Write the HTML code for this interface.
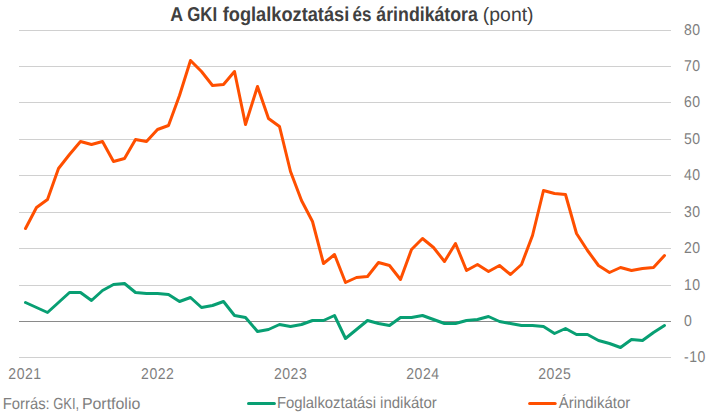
<!DOCTYPE html>
<html><head><meta charset="utf-8"><title>chart</title>
<style>
html,body{margin:0;padding:0;background:#fff;}
svg{display:block;text-rendering:geometricPrecision;font-family:"Liberation Sans",sans-serif;}
.g{font-size:16px;fill:#7f7f7f;}
.d{font-size:15.6px;fill:#7f7f7f;}
.tb{font-size:20px;font-weight:bold;fill:#404040;}
.tr{font-size:19.4px;fill:#404040;}
.ln{fill:none;stroke-width:3;stroke-linecap:round;stroke-linejoin:round;}
</style></head><body>
<svg width="719" height="416" viewBox="0 0 719 416">
<rect width="719" height="416" fill="#ffffff"/>
<g shape-rendering="crispEdges">
<rect x="19" y="30" width="652" height="1" fill="#d0d0d0"/>
<rect x="19" y="66" width="652" height="1" fill="#d0d0d0"/>
<rect x="19" y="102" width="652" height="1" fill="#d0d0d0"/>
<rect x="19" y="139" width="652" height="1" fill="#d0d0d0"/>
<rect x="19" y="175" width="652" height="1" fill="#d0d0d0"/>
<rect x="19" y="212" width="652" height="1" fill="#d0d0d0"/>
<rect x="19" y="248" width="652" height="1" fill="#d0d0d0"/>
<rect x="19" y="285" width="652" height="1" fill="#d0d0d0"/>
<rect x="19" y="321" width="652" height="1" fill="#8a8a8a"/>
<rect x="19" y="357" width="652" height="1" fill="#d0d0d0"/>
</g>
<g transform="translate(683.95,34.9) scale(0.9,1)"><text class="d" text-anchor="start" letter-spacing="0.567">80</text></g>
<g transform="translate(683.95,70.9) scale(0.9,1)"><text class="d" text-anchor="start" letter-spacing="0.567">70</text></g>
<g transform="translate(683.95,106.9) scale(0.9,1)"><text class="d" text-anchor="start" letter-spacing="0.567">60</text></g>
<g transform="translate(683.95,143.9) scale(0.9,1)"><text class="d" text-anchor="start" letter-spacing="0.567">50</text></g>
<g transform="translate(683.95,179.9) scale(0.9,1)"><text class="d" text-anchor="start" letter-spacing="0.567">40</text></g>
<g transform="translate(683.95,216.9) scale(0.9,1)"><text class="d" text-anchor="start" letter-spacing="0.567">30</text></g>
<g transform="translate(683.95,252.9) scale(0.9,1)"><text class="d" text-anchor="start" letter-spacing="0.567">20</text></g>
<g transform="translate(683.95,289.9) scale(0.9,1)"><text class="d" text-anchor="start" letter-spacing="0.567">10</text></g>
<g transform="translate(683.95,325.9) scale(0.9,1)"><text class="d" text-anchor="start" letter-spacing="0.567">0</text></g>
<g transform="translate(683.95,361.9) scale(0.9,1)"><text class="d" text-anchor="start" letter-spacing="0.567">-10</text></g>
<g transform="translate(25.0,378.8) scale(0.9,1)"><text class="d" text-anchor="middle" letter-spacing="0.567">2021</text></g>
<g transform="translate(157.7,378.8) scale(0.9,1)"><text class="d" text-anchor="middle" letter-spacing="0.567">2022</text></g>
<g transform="translate(290.6,378.8) scale(0.9,1)"><text class="d" text-anchor="middle" letter-spacing="0.567">2023</text></g>
<g transform="translate(422.9,378.8) scale(0.9,1)"><text class="d" text-anchor="middle" letter-spacing="0.567">2024</text></g>
<g transform="translate(554.8,378.8) scale(0.9,1)"><text class="d" text-anchor="middle" letter-spacing="0.567">2025</text></g>
<polyline class="ln" stroke="#ff4f00" points="25.5,228.5 36.5,207.5 47.5,199.5 58.5,168.5 69.5,154.5 80.5,141.5 91.5,144.5 102.5,141.5 113.5,161.5 124.5,158.5 135.5,139.5 146.5,141.5 157.5,129.5 168.5,125.5 179.5,95.5 190.5,60.5 201.5,71.5 212.5,85.5 223.5,84.5 234.5,71.5 245.5,124.5 257.5,86.5 268.5,118.5 279.5,126.5 290.5,171.5 301.5,200.5 312.5,221.5 323.5,263.5 334.5,254.5 345.5,282.5 356.5,277.5 367.5,276.5 378.5,262.5 389.5,265.5 400.5,279.5 411.5,249.5 422.5,238.5 433.5,247.5 444.5,261.5 455.5,243.5 466.5,270.5 477.5,264.5 488.5,271.5 499.5,265.5 510.5,274.5 521.5,264.5 532.5,235.5 543.5,190.5 554.5,193.5 565.5,194.5 576.5,233.5 587.5,250.5 598.5,265.5 609.5,272.5 620.5,267.5 631.5,270.5 642.5,268.5 653.5,267.5 664.5,255.5"/>
<polyline class="ln" stroke="#089f73" points="25.5,302.5 36.5,307.5 47.5,312.5 58.5,302.5 69.5,292.5 80.5,292.5 91.5,300.5 102.5,290.5 113.5,284.5 124.5,283.5 135.5,292.5 146.5,293.5 157.5,293.5 168.5,294.5 179.5,301.5 190.5,297.5 201.5,307.5 212.5,305.5 223.5,301.5 234.5,315.5 245.5,317.5 257.5,331.5 268.5,329.5 279.5,324.5 290.5,326.5 301.5,324.5 312.5,320.5 323.5,320.5 334.5,315.5 345.5,338.5 356.5,329.5 367.5,320.5 378.5,323.5 389.5,325.5 400.5,317.5 411.5,317.5 422.5,315.5 433.5,319.5 444.5,323.5 455.5,323.5 466.5,320.5 477.5,319.5 488.5,316.5 499.5,321.5 510.5,323.5 521.5,325.5 532.5,325.5 543.5,326.5 554.5,333.5 565.5,328.5 576.5,334.5 587.5,334.5 598.5,340.5 609.5,343.5 620.5,347.5 631.5,339.5 642.5,340.5 653.5,332.5 664.5,325.5"/>
<text class="tb" x="170.24" y="20.7" textLength="12.85" lengthAdjust="spacingAndGlyphs">A</text>
<text class="tb" x="187.28" y="20.7" textLength="29.88" lengthAdjust="spacingAndGlyphs">GKI</text>
<text class="tb" x="222.73" y="20.7" textLength="126.51" lengthAdjust="spacingAndGlyphs">foglalkoztatási</text>
<text class="tb" x="352.6" y="20.7" textLength="18.91" lengthAdjust="spacingAndGlyphs">és</text>
<text class="tb" x="376.36" y="20.7" textLength="101.49" lengthAdjust="spacingAndGlyphs">árindikátora</text>
<text class="tr" x="482.8" y="20.7" textLength="50.76" lengthAdjust="spacingAndGlyphs">(pont)</text>
<text class="g" x="2.69" y="409.0" textLength="47.05" lengthAdjust="spacingAndGlyphs">Forrás:</text>
<text class="g" x="53.15" y="409.0" textLength="26.05" lengthAdjust="spacingAndGlyphs">GKI,</text>
<text class="g" x="81.91" y="409.0" textLength="58.39" lengthAdjust="spacingAndGlyphs">Portfolio</text>
<text class="g" x="276.89" y="408.0" textLength="99.19" lengthAdjust="spacingAndGlyphs">Foglalkoztatási</text>
<text class="g" x="380.06" y="408.0" textLength="56.75" lengthAdjust="spacingAndGlyphs">indikátor</text>
<text class="g" x="558.7" y="408.0" textLength="71.51" lengthAdjust="spacingAndGlyphs">Árindikátor</text>
<line class="ln" stroke="#089f73" x1="248.5" y1="403.5" x2="274.4" y2="403.5"/>
<line class="ln" stroke="#ff4f00" x1="529.6" y1="403.5" x2="555.2" y2="403.5"/>
</svg>
</body></html>
